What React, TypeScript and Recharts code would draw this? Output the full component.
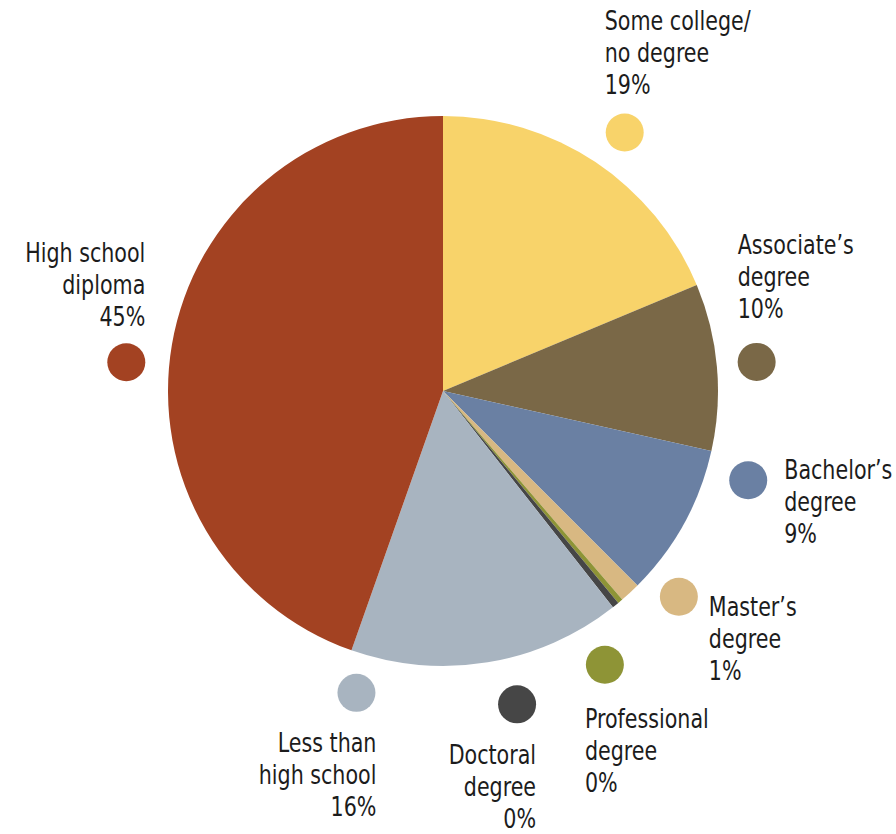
import { PieChart, Pie, Cell } from 'recharts';

const categories = [
  'Some college/\nno degree',
  'Associate\u2019s\ndegree',
  'Bachelor\u2019s\ndegree',
  'Master\u2019s\ndegree',
  'Professional\ndegree',
  'Doctoral\ndegree',
  'Less than\nhigh school',
  'High school\ndiploma',
];
const shares = [18.7, 9.8, 9.0, 1.2, 0.3, 0.4, 16.0, 44.6];
const COLORS = ['#F8D36A', '#7A6847', '#6A80A3', '#D8B882', '#8E9436', '#464646', '#A8B4C0', '#A34222'];

// where each legend dot sits (angle clockwise from 12 o'clock, distance from center)
// and where its text goes relative to the dot
const LABEL_LAYOUT = [
  { angle: 35.1, r: 316, tx: -20, ty: -112, anchor: 'start' },
  { angle: 84.7, r: 315, tx: -19, ty: -117, anchor: 'start' },
  { angle: 106.3, r: 318, tx: 36, ty: -10, anchor: 'start' },
  { angle: 131.1, r: 313, tx: 30, ty: 10, anchor: 'start' },
  { angle: 149.4, r: 318, tx: -20, ty: 54, anchor: 'start' },
  { angle: 166.7, r: 322, tx: 19, ty: 50, anchor: 'end' },
  { angle: 196.0, r: 314, tx: 20, ty: 50, anchor: 'end' },
  { angle: 275.2, r: 318, tx: 19, ty: -109, anchor: 'end' },
];

const data = categories.map((name, i) => ({ name, value: shares[i] }));

const FONT = '"DejaVu Sans", sans-serif';

function renderLabel(props: any) {
  const { cx, cy, index } = props;
  const l = LABEL_LAYOUT[index];
  const rad = (l.angle * Math.PI) / 180;
  const x = cx + l.r * Math.sin(rad);
  const y = cy - l.r * Math.cos(rad);
  const lines = [...categories[index].split('\n'), Math.round(shares[index]) + '%'];
  return (
    <g key={'lbl' + index}>
      <circle cx={x} cy={y} r={19} fill={COLORS[index]} />
      {lines.map((t, j) => (
        <text
          key={j}
          transform={`translate(${x + l.tx},${y + l.ty + j * 32}) scale(0.85,1)`}
          x={0}
          y={0}
          textAnchor={l.anchor}
          dominantBaseline="central"
          fontFamily={FONT}
          fontStretch="condensed"
          fontSize={27}
          fill="#1c1c1c"
        >
          {t}
        </text>
      ))}
    </g>
  );
}

export default function App() {
  return (
    <div style={{ position: 'absolute', left: 0, top: 0, width: 896, height: 834, background: '#fff' }}>
      <PieChart width={896} height={834} margin={{ top: 0, right: 0, bottom: 0, left: 0 }}>
        <Pie
          data={data}
          dataKey="value"
          cx={443}
          cy={391}
          outerRadius={275}
          startAngle={90}
          endAngle={-270}
          stroke="none"
          label={renderLabel}
          labelLine={false}
          isAnimationActive={false}
        >
          {data.map((d, i) => (
            <Cell key={d.name} fill={COLORS[i]} />
          ))}
        </Pie>
      </PieChart>
    </div>
  );
}
